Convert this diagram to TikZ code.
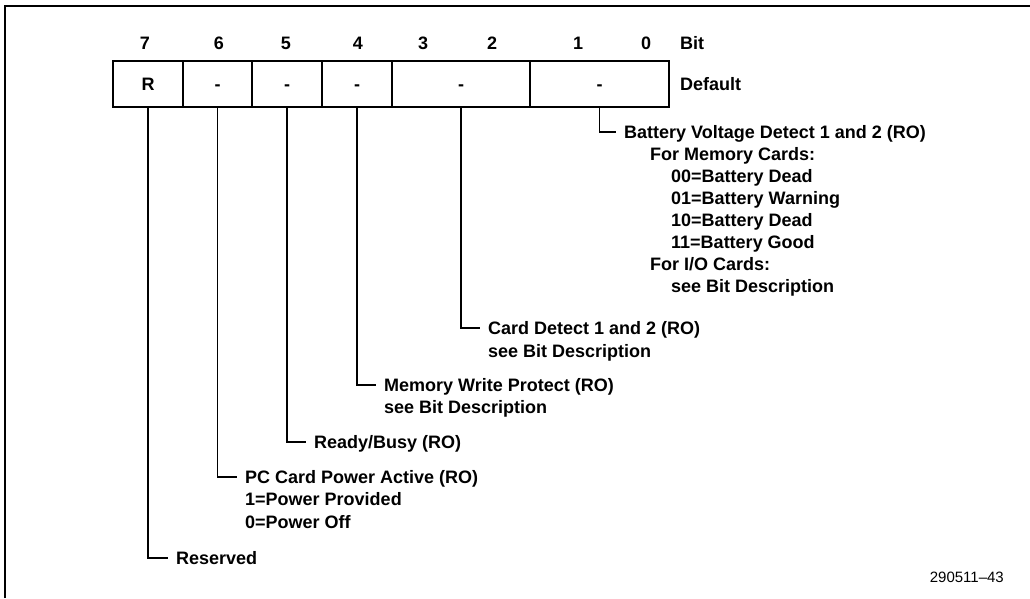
\documentclass[tikz,border=0pt]{standalone}
\usepackage{fontspec}
\setmainfont{Liberation Sans}
\newcommand{\regfont}{\fontsize{18}{22}\selectfont\bfseries}

\begin{document}
\begin{tikzpicture}[
        x=1pt, y=-1pt,
        field/.style={rectangle, draw, line width=1.6pt, minimum height=46pt, inner sep=0pt, text height=13pt, text depth=0pt, font=\regfont},
        bitnum/.style={font=\regfont, inner sep=0pt},
        desc/.style={font=\regfont, text height=13pt, text depth=0pt, inner sep=0pt, anchor=base west},
        leader/.style={line width=1.4pt}
    ]
        \useasboundingbox (0,0) rectangle (1030,598);

        % Frame (top and left edges only)
        \draw[line width=1.8pt] (5,598) -- (5,6) -- (1030,6);

        % Bit numbers
        \node[bitnum] (bit7) at (145,43) {7};
        \node[bitnum] (bit6) at (219,43) {6};
        \node[bitnum] (bit5) at (286,43) {5};
        \node[bitnum] (bit4) at (358,43) {4};
        \node[bitnum] (bit3) at (423,43) {3};
        \node[bitnum] (bit2) at (492,43) {2};
        \node[bitnum] (bit1) at (578,43) {1};
        \node[bitnum] (bit0) at (646,43) {0};
        \node[bitnum, anchor=west] (bitlabel) at (680,43) {Bit};

        % Register fields
        \node[field, minimum width=70pt] (field7) at (148,84) {R};
        \node[field, minimum width=69pt] (field6) at (217.5,84) {-};
        \node[field, minimum width=70pt] (field5) at (287,84) {-};
        \node[field, minimum width=70pt] (field4) at (357,84) {-};
        \node[field, minimum width=138pt] (field32) at (461,84) {-};
        \node[field, minimum width=139pt] (field10) at (599.5,84) {-};
        \node[bitnum, anchor=west] (defaultlabel) at (680,84) {Default};

        % Bits 1-0: battery voltage detect
        \node[desc] (desc10) at (624,138.5) {Battery Voltage Detect 1 and 2 (RO)};
        \node[desc] (desc10_mem) at (650,160.5) {For Memory Cards:};
        \node[desc] (desc10_00) at (671,182.5) {00=Battery Dead};
        \node[desc] (desc10_01) at (671,204.5) {01=Battery Warning};
        \node[desc] (desc10_10) at (671,226.5) {10=Battery Dead};
        \node[desc] (desc10_11) at (671,248.5) {11=Battery Good};
        \node[desc] (desc10_io) at (650,270.5) {For I/O Cards:};
        \node[desc] (desc10_see) at (671,292.5) {see Bit Description};
        \draw[leader] (field10.south) |- ([xshift=-8pt]desc10.west);

        % Bits 3-2: card detect
        \node[desc] (desc32) at (488,334.5) {Card Detect 1 and 2 (RO)};
        \node[desc] (desc32_see) at (488,357.5) {see Bit Description};
        \draw[leader] (field32.south) |- ([xshift=-8pt]desc32.west);

        % Bit 4: write protect
        \node[desc] (desc4) at (384,391.5) {Memory Write Protect (RO)};
        \node[desc] (desc4_see) at (384,413.5) {see Bit Description};
        \draw[leader] (field4.south) |- ([xshift=-8pt]desc4.west);

        % Bit 5: ready/busy
        \node[desc] (desc5) at (314,448.5) {Ready/Busy (RO)};
        \draw[leader] (field5.south) |- ([xshift=-8pt]desc5.west);

        % Bit 6: power active
        \node[desc] (desc6) at (245,483.5) {PC Card Power Active (RO)};
        \node[desc] (desc6_on) at (245,505.5) {1=Power Provided};
        \node[desc] (desc6_off) at (245,528.5) {0=Power Off};
        \draw[leader] (field6.south) |- ([xshift=-8pt]desc6.west);

        % Bit 7: reserved
        \node[desc] (desc7) at (176,564.5) {Reserved};
        \draw[leader] (field7.south) |- ([xshift=-8pt]desc7.west);

        % Figure number
        \node[font=\fontsize{15}{18}\selectfont, anchor=east, inner sep=0pt] (figid) at (1004,577) {290511--43};

    \end{tikzpicture}
\end{document}
